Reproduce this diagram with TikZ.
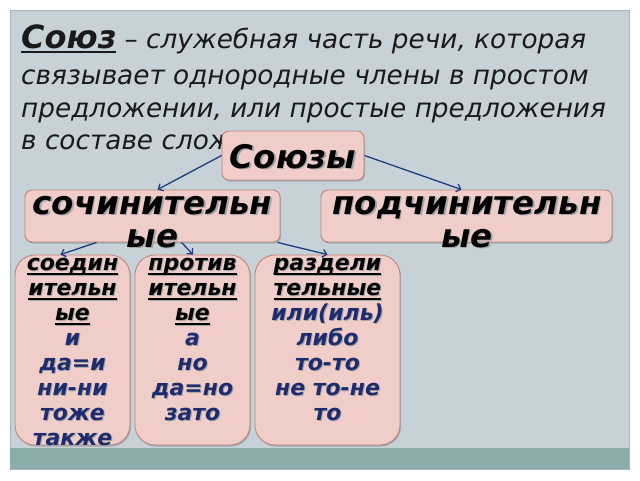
\documentclass[tikz,border=0pt]{standalone}
\usepackage{fontspec}
\setmainfont{DejaVu Sans}
\usetikzlibrary{arrows.meta,shadows}
\definecolor{slidebg}{HTML}{C7D2D8}
\definecolor{framec}{HTML}{A8B4B8}
\definecolor{bandc}{HTML}{8AADAC}
\definecolor{boxfill}{HTML}{F0CDC9}
\definecolor{boxline}{HTML}{BF867F}
\definecolor{navy}{HTML}{1E2B6C}
\definecolor{arrowc}{HTML}{1F3C80}
\definecolor{titlec}{HTML}{1A1A1A}
\definecolor{shadowc}{HTML}{A3A6A8}
\newcommand\shd[2][1pt]{\makebox[0pt][l]{\kern#1\raisebox{-#1}{\textcolor{shadowc}{#2}}}#2}
\newcommand\thul[3]{\begingroup\setbox0\hbox{#3}\rlap{\rule[-#1]{\wd0}{#2}}\box0\endgroup}
\newcommand\hd[1]{\shd{\thul{4.5pt}{1.6pt}{#1}}}
\newcommand\bl[1]{\textcolor{navy}{\shd{#1}}}
\tikzset{
  titletext/.style={font=\fontsize{26.3}{30}\selectfont\itshape, text=titlec, inner sep=0pt, anchor=base west},
  box/.style={draw=boxline, fill=boxfill, line width=0.9pt, inner sep=0pt,
    drop shadow={shadow xshift=1pt, shadow yshift=-1.5pt, opacity=0.3, fill=black!70}},
  bigbox/.style={box, rounded corners=7pt},
  tallbox/.style={box, rounded corners=20pt, minimum width=115pt, minimum height=190pt},
  bigtext/.style={font=\fontsize{32.5}{33}\selectfont\bfseries\itshape, text=black, inner sep=0pt, anchor=base},
  smalltext/.style={font=\fontsize{22}{25}\selectfont\bfseries\itshape, text=black, inner sep=0pt, anchor=base},
  conn/.style={draw=arrowc, line width=1.3pt, -{Straight Barb[length=4pt,width=8pt]}}
}
\begin{document}
\begin{tikzpicture}[x=1pt,y=-1pt]
\useasboundingbox (0,0) rectangle (640,480);
\fill[white] (0,0) rectangle (640,480);
\filldraw[fill=slidebg, draw=framec, line width=0.6pt] (10,10) rectangle (629,469);
\fill[bandc] (10,448) rectangle (629,469);
% title
\node[titletext] (t1) at (21,48) {\thul{5pt}{2pt}{\fontsize{32}{30}\selectfont\bfseries Союз} – служебная часть речи, которая};
\node[titletext] (t2) at (21,84) {связывает однородные члены в простом};
\node[titletext] (t3) at (21,117) {предложении, или простые предложения};
\node[titletext] (t4) at (21,149) {в составе сложного};
% boxes
\node[bigbox, minimum width=142pt, minimum height=49pt] (sz) at (293,155.5) {};
\node[bigbox, minimum width=255pt, minimum height=52pt] (soch) at (152.5,216) {};
\node[bigbox, minimum width=291pt, minimum height=52pt] (podch) at (466.5,216) {};
\node[tallbox] (b1) at (72.5,350) {};
\node[tallbox] (b2) at (192.5,350) {};
\node[tallbox, minimum width=145pt] (b3) at (327.5,350) {};
% connectors
\draw[conn] (sz.west) -- ([xshift=133pt]soch.north west);
\draw[conn] (sz.east) -- ([xshift=141pt]podch.north west);
\draw[conn] ([xshift=72pt]soch.south west) -- ([xshift=-12pt]b1.north);
\draw[conn] ([xshift=157pt]soch.south west) -- ([xshift=0.5pt]b2.north);
\draw[conn] ([xshift=-3pt]soch.south east) -- (b3.north);
% texts
\node[bigtext] (szt) at (293,168) {\shd[1.5pt]{Союзы}};
\node[bigtext] (socht) at (152.5,214) {\begin{tabular}[t]{@{}c@{}}\shd[1.5pt]{сочинительн}\\\shd[1.5pt]{ые}\end{tabular}};
\node[bigtext] (podcht) at (467,214) {\begin{tabular}[t]{@{}c@{}}\shd[1.5pt]{подчинительн}\\\shd[1.5pt]{ые}\end{tabular}};
\node[smalltext] (b1t) at (72.5,270) {\begin{tabular}[t]{@{}c@{}}\hd{соедин}\\\hd{ительн}\\\hd{ые}\\\bl{и}\\\bl{да=и}\\\bl{ни-ни}\\\bl{тоже}\\\bl{также}\end{tabular}};
\node[smalltext] (b2t) at (192.5,270) {\begin{tabular}[t]{@{}c@{}}\hd{против}\\\hd{ительн}\\\hd{ые}\\\bl{а}\\\bl{но}\\\bl{да=но}\\\bl{зато}\end{tabular}};
\node[smalltext] (b3t) at (327.5,270) {\begin{tabular}[t]{@{}c@{}}\hd{раздели}\\\hd{тельные}\\\bl{или(иль)}\\\bl{либо}\\\bl{то-то}\\\bl{не то-не}\\\bl{то}\end{tabular}};
\end{tikzpicture}
\end{document}
